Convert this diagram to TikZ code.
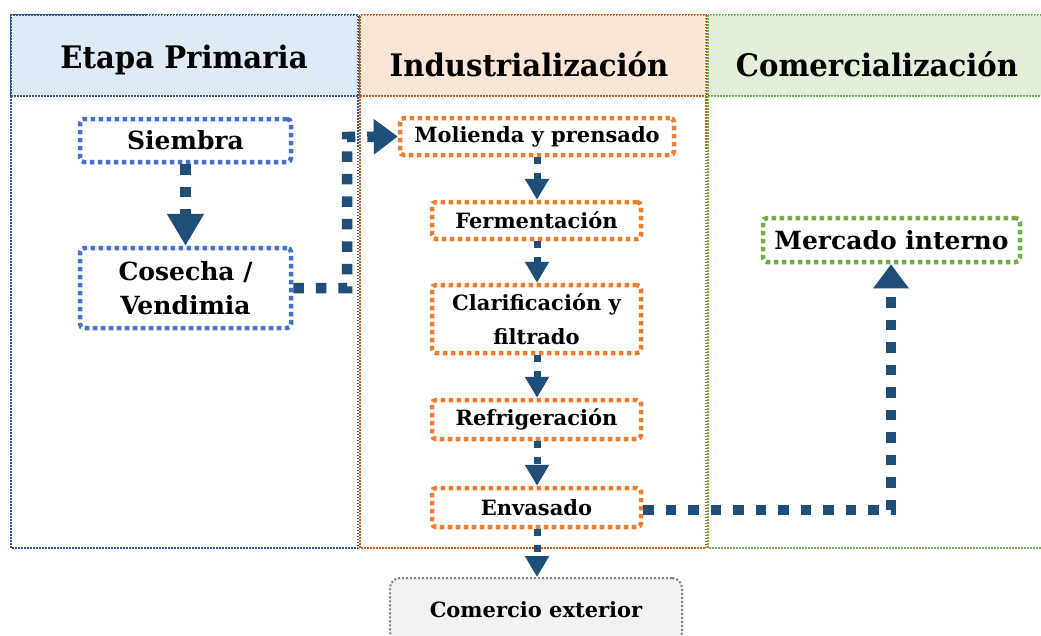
\documentclass[tikz,border=0pt]{standalone}
\usepackage{fontspec}
\setmainfont{DejaVu Serif}
\newfontfamily\hdrfont{DejaVu Serif}[FakeStretch=0.94]
\usetikzlibrary{arrows.meta}
\definecolor{arrowblue}{HTML}{1F4E79}
\definecolor{boxblue}{HTML}{4472C4}
\definecolor{boxorange}{HTML}{ED7D31}
\definecolor{boxgreen}{HTML}{70AD47}
\definecolor{colblue}{HTML}{2F5597}
\definecolor{colorange}{HTML}{C55A11}
\definecolor{colgreen}{HTML}{70AD47}
\definecolor{fillblue}{HTML}{DEEBF7}
\definecolor{fillorange}{HTML}{FBE5D6}
\definecolor{fillgreen}{HTML}{E2F0D9}
\definecolor{fillgray}{HTML}{F2F2F2}
\definecolor{bordergray}{HTML}{7F7F7F}
\tikzset{
  colframe/.style={line width=1.5pt, dash pattern=on 1.5pt off 1.5pt},
  hdrbox/.style={colframe, inner sep=0pt},
  hdrtext/.style={inner sep=0pt, anchor=base, font=\fontsize{31}{34}\selectfont\hdrfont\bfseries},
  stepbox/.style={draw, rounded corners=4pt, line width=4.5pt, dash pattern=on 4.5pt off 3.5pt,
    fill=white, inner sep=0pt, align=center},
  bigfont/.style={font=\fontsize{25}{34}\selectfont\bfseries},
  smallfont/.style={font=\fontsize{21}{34}\selectfont\bfseries},
  bigarrow/.style={draw=arrowblue, line width=10.5pt, dash pattern=on 10.5pt off 12pt,
    -{Triangle[width=34pt,length=24pt]}, arrowblue},
  tallarrow/.style={bigarrow, -{Triangle[width=35pt,length=32pt]}},
  smallarrow/.style={draw=arrowblue, line width=7pt, dash pattern=on 7pt off 9pt,
    -{Triangle[width=23pt,length=21pt]}, arrowblue},
}
\begin{document}
\begin{tikzpicture}[x=1pt,y=-1pt]
\clip (0,0) rectangle (1041,635);
\fill[white] (0,0) rectangle (1041,635);

% column bodies
\draw[colframe, draw=colblue] (11,15) rectangle (358,548);
\draw[colframe, draw=colorange] (360,15) rectangle (706,548);
\draw[colframe, draw=colgreen] (708,15) rectangle (1050,548);

% headers
\node[hdrbox, draw=colblue, fill=fillblue, minimum width=347pt, minimum height=81pt] (h1) at (184.5,55.5) {};
\node[hdrbox, draw=colorange, fill=fillorange, minimum width=346pt, minimum height=81pt] (h2) at (533,55.5) {};
\node[hdrbox, draw=colgreen, fill=fillgreen, minimum width=342pt, minimum height=81pt] (h3) at (879,55.5) {};
\node[hdrtext] (t1) at (184,68) {Etapa Primaria};
\node[hdrtext] (t2) at (529,76) {Industrialización};
\node[hdrtext] (t3) at (877,76) {Comercialización};

% boxes
\node[stepbox, bigfont, draw=boxblue, minimum width=211pt, minimum height=43pt] (siembra) at (185.5,140.5) {Siembra};
\node[stepbox, bigfont, draw=boxblue, minimum width=211pt, minimum height=80pt] (cosecha) at (185.5,288) {Cosecha /\\Vendimia};
\node[stepbox, smallfont, draw=boxorange, minimum width=274pt, minimum height=37pt] (molienda) at (537,136.5) {Molienda y prensado};
\node[stepbox, smallfont, draw=boxorange, minimum width=209pt, minimum height=37pt] (ferm) at (536.5,220.5) {Fermentación};
\node[stepbox, smallfont, draw=boxorange, minimum width=209pt, minimum height=68pt] (clar) at (536.5,319) {Clarificación y\\filtrado};
\node[stepbox, smallfont, draw=boxorange, minimum width=209pt, minimum height=39pt] (refr) at (536.5,419.5) {Refrigeración};
\node[stepbox, smallfont, draw=boxorange, minimum width=209pt, minimum height=39pt] (env) at (536.5,507.5) {Envasado};
\node[stepbox, bigfont, draw=boxgreen, minimum width=257pt, minimum height=44pt] (mercado) at (891.5,240) {Mercado interno};
\node[draw=bordergray, fill=fillgray, rounded corners=10pt, line width=2pt, dash pattern=on 2pt off 2pt,
  inner sep=0pt, minimum width=292pt, minimum height=64pt, smallfont] (comercio) at (536,610) {Comercio exterior};

% connectors
\coordinate (c1) at (347,288);
\coordinate (c2) at (347,137);
\coordinate (m1) at (891,510);
\path[tallarrow] (siembra.south) -- (cosecha.north);
\path[bigarrow] (cosecha.east) -- (c1) -- (c2) -- (molienda.west);
\path[smallarrow] (molienda.south -| 537,0) -- (ferm.north -| 537,0);
\path[smallarrow] (ferm.south -| 537,0) -- (clar.north -| 537,0);
\path[smallarrow] (clar.south -| 537,0) -- (refr.north -| 537,0);
\path[smallarrow] (refr.south -| 537,0) -- (env.north -| 537,0);
\path[smallarrow] (env.south -| 537,0) -- (comercio.north -| 537,0);
\path[bigarrow] (env.east |- 0,510) -- (m1) -- (mercado.south -| m1);
\end{tikzpicture}
\end{document}
